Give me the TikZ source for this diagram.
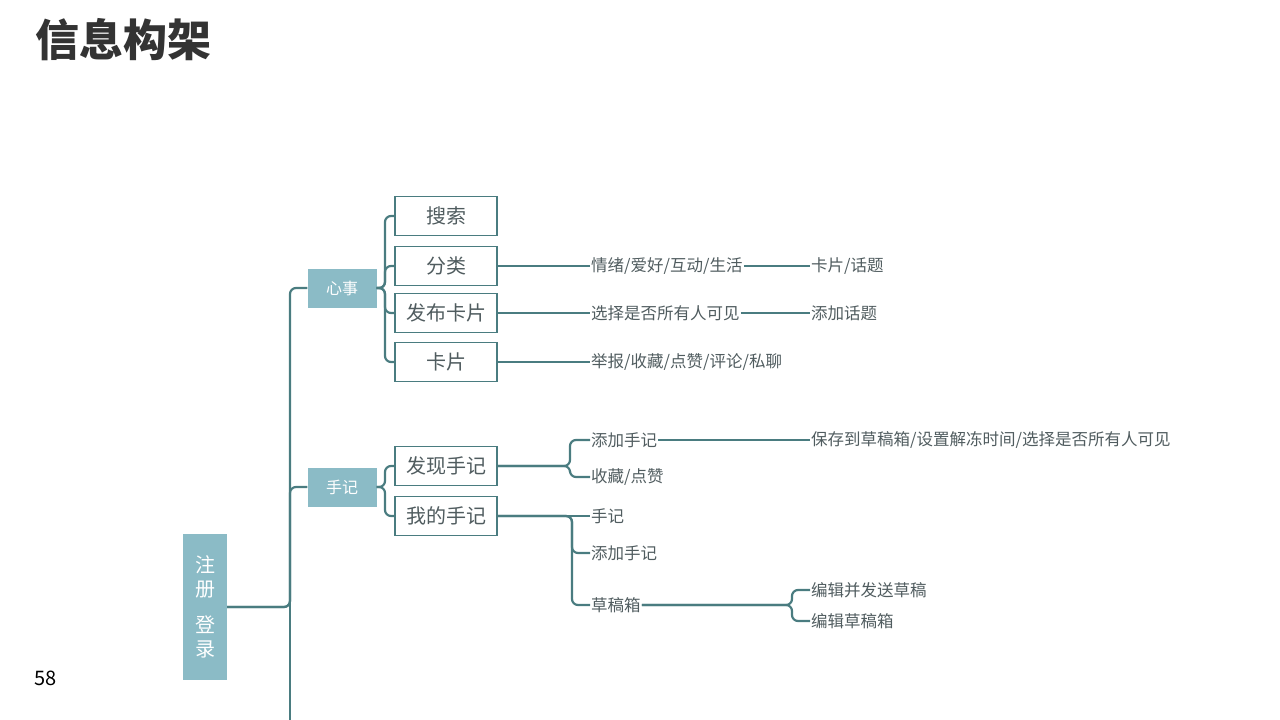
\documentclass[tikz,border=0pt]{standalone}
\usepackage{fontspec}
\setmainfont{Noto Sans CJK SC}
\begin{document}
\begin{tikzpicture}[x=1pt,y=-1pt,
  conn/.style={draw=lc,line width=2.2pt,rounded corners=6pt},
  fillbox/.style={fill=bc,text=white,minimum width=69pt,minimum height=39pt,inner sep=0,font=\fontsize{16}{16}\selectfont},
  wbox/.style={draw=lc,line width=1.2pt,fill=white,text=tc,minimum width=102pt,minimum height=39pt,inner sep=0,font=\fontsize{20}{20}\selectfont},
  leaf/.style={anchor=west,inner sep=1pt,text=tc,font=\fontsize{16.5}{16.5}\selectfont}]
\definecolor{lc}{RGB}{74,124,128}
\definecolor{bc}{RGB}{139,187,198}
\definecolor{tc}{RGB}{80,92,95}
\useasboundingbox (0,0) rectangle (1280,720);
\node[anchor=north west,inner sep=0,font=\fontsize{44}{44}\selectfont\bfseries,text=black!80] (title) at (35,18) {信息构架};
\node[anchor=west,inner sep=0,font=\fontsize{20}{20}\selectfont] (pg) at (34,678) {58};
% root
\node[fill=bc,minimum width=44pt,minimum height=146pt,inner sep=0,text=white,font=\fontsize{20}{24}\selectfont,align=center] (root) at (205,607) {注\\册\\[12pt]登\\录};
\coordinate (trunkend) at (290,720);
\node[fillbox] (xs) at (342,288) {心事};
\node[fillbox] (sj) at (342,487) {手记};
\draw[conn] (root.east) -- (290,607) |- (xs.west);
\draw[conn] (root.east) -- (290,607) |- (sj.west);
\draw[conn] (290,600) -- (trunkend);
% 心事 children
\node[wbox] (ss) at (446,216) {搜索};
\node[wbox] (fl) at (446,266) {分类};
\node[wbox] (fb) at (446,313) {发布卡片};
\node[wbox] (kp) at (446,362) {卡片};
\foreach \c in {ss,fl,fb,kp}{\draw[conn] (xs.east) -- (385,288) |- (\c.west);}
\node[leaf] (l1) at (590,266) {情绪/爱好/互动/生活};
\node[leaf] (l1b) at (810,266) {卡片/话题};
\node[leaf] (l2) at (590,313) {选择是否所有人可见};
\node[leaf] (l2b) at (810,313) {添加话题};
\node[leaf] (l3) at (590,362) {举报/收藏/点赞/评论/私聊};
\draw[conn] (fl.east) -- (l1.west);
\draw[conn] (l1.east) -- (l1b.west);
\draw[conn] (fb.east) -- (l2.west);
\draw[conn] (l2.east) -- (l2b.west);
\draw[conn] (kp.east) -- (l3.west);
% 手记 children
\node[wbox] (fx) at (446,466) {发现手记};
\node[wbox] (wd) at (446,516) {我的手记};
\foreach \c in {fx,wd}{\draw[conn] (sj.east) -- (385,487) |- (\c.west);}
\node[leaf] (a1) at (590,440) {添加手记};
\node[leaf] (a1b) at (810,440) {保存到草稿箱/设置解冻时间/选择是否所有人可见};
\node[leaf] (a2) at (590,477) {收藏/点赞};
\foreach \c in {a1,a2}{\draw[conn] (fx.east) -- (570,466) |- (\c.west);}
\draw[conn] (a1.east) -- (a1b.west);
\node[leaf] (b1) at (590,516) {手记};
\node[leaf] (b2) at (590,553) {添加手记};
\node[leaf] (b3) at (590,605) {草稿箱};
\draw[conn] (wd.east) -- (b1.west);
\foreach \c in {b2,b3}{\draw[conn] (wd.east) -- (572,516) |- (\c.west);}
\node[leaf] (c1) at (810,590) {编辑并发送草稿};
\node[leaf] (c2) at (810,621) {编辑草稿箱};
\foreach \c in {c1,c2}{\draw[conn] (b3.east) -- (792,605) |- (\c.west);}
\end{tikzpicture}
\end{document}
